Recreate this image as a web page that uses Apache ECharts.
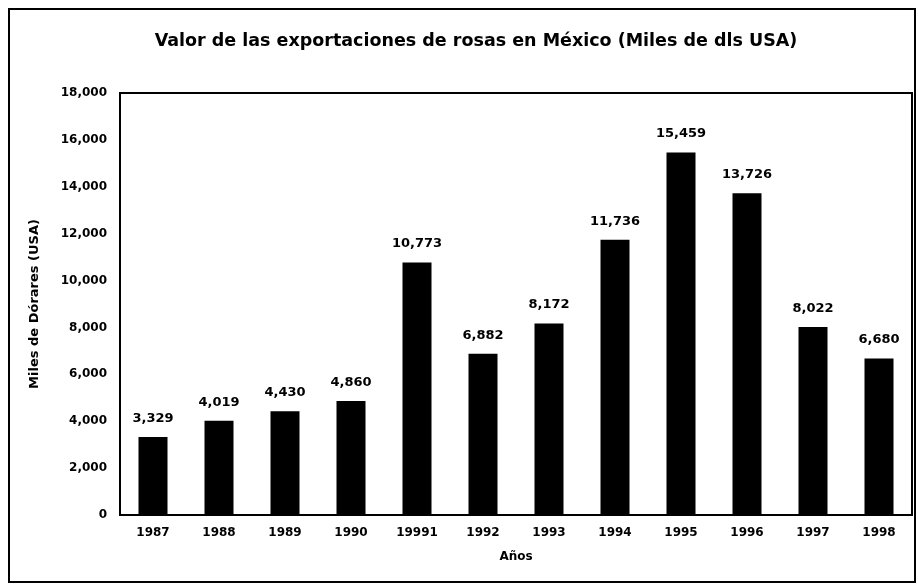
<!DOCTYPE html>
<html>
<head>
<meta charset="utf-8">
<script src="https://cdn.jsdelivr.net/npm/echarts@6/dist/echarts.min.js"></script>
<style>
  html, body { margin: 0; padding: 0; background: #fff; }
  #chart { width: 918px; height: 586px; }
</style>
</head>
<body>
<div id="chart"></div>
<script>
// datos
var years = ['1987', '1988', '1989', '1990', '19991', '1992', '1993', '1994', '1995', '1996', '1997', '1998'];
var exportValues = [3329, 4019, 4430, 4860, 10773, 6882, 8172, 11736, 15459, 13726, 8022, 6680];
var yTicks = [0, 2000, 4000, 6000, 8000, 10000, 12000, 14000, 16000, 18000];

var fontFam = '"DejaVu Sans", "Liberation Sans", Arial, sans-serif';

function miles(v) {
    return String(v).replace(/\B(?=(\d{3})+(?!\d))/g, ',');
}

var myChart = echarts.init(document.getElementById('chart'));
var option = {
    backgroundColor: '#fff',
    animation: false,
    title: {
        text: 'Valor de las exportaciones de rosas en México (Miles de dls USA)',
        left: 471,
        top: 27,
        textAlign: 'center',
        textStyle: {
            fontFamily: fontFam,
            fontSize: 17.5,
            fontWeight: 'bold',
            color: '#000'
        }
    },
    // marco exterior
    graphic: [{
        type: 'rect',
        shape: { x: 9, y: 9, width: 906, height: 573 },
        style: { fill: 'none', stroke: '#000', lineWidth: 2 }
    }],
    grid: {
        left: 120,
        right: 6,
        top: 93,
        bottom: 71,
        show: true,
        borderColor: '#000',
        borderWidth: 2,
        backgroundColor: 'transparent'
    },
    xAxis: {
        type: 'category',
        data: years,
        name: 'Años',
        nameLocation: 'middle',
        nameGap: 36,
        nameTextStyle: { fontFamily: fontFam, fontSize: 12, fontWeight: 'bold', color: '#000' },
        axisLine: { lineStyle: { color: '#000', width: 2 } },
        axisTick: { show: false },
        axisLabel: { fontFamily: fontFam, fontSize: 12, fontWeight: 'bold', color: '#000', margin: 12 }
    },
    yAxis: {
        type: 'value',
        min: yTicks[0],
        max: yTicks[yTicks.length - 1],
        interval: 2000,
        name: 'Miles de Dórares (USA)',
        nameLocation: 'middle',
        nameGap: 79,
        nameTextStyle: { fontFamily: fontFam, fontSize: 13, fontWeight: 'bold', color: '#000' },
        axisLine: { show: true, lineStyle: { color: '#000', width: 2 } },
        axisTick: { show: false },
        splitLine: { show: false },
        axisLabel: {
            fontFamily: fontFam, fontSize: 12, fontWeight: 'bold', color: '#000', margin: 13,
            formatter: function (v) { return miles(v); }
        }
    },
    series: [{
        name: 'Exportaciones',
        type: 'bar',
        data: exportValues,
        barWidth: 29,
        itemStyle: { color: '#000' },
        label: {
            show: true,
            position: 'top',
            distance: 12,
            fontFamily: fontFam,
            fontSize: 13,
            fontWeight: 'bold',
            color: '#000',
            formatter: function (p) { return miles(p.value); }
        }
    }]
};
myChart.setOption(option, true);
</script>
</body>
</html>
